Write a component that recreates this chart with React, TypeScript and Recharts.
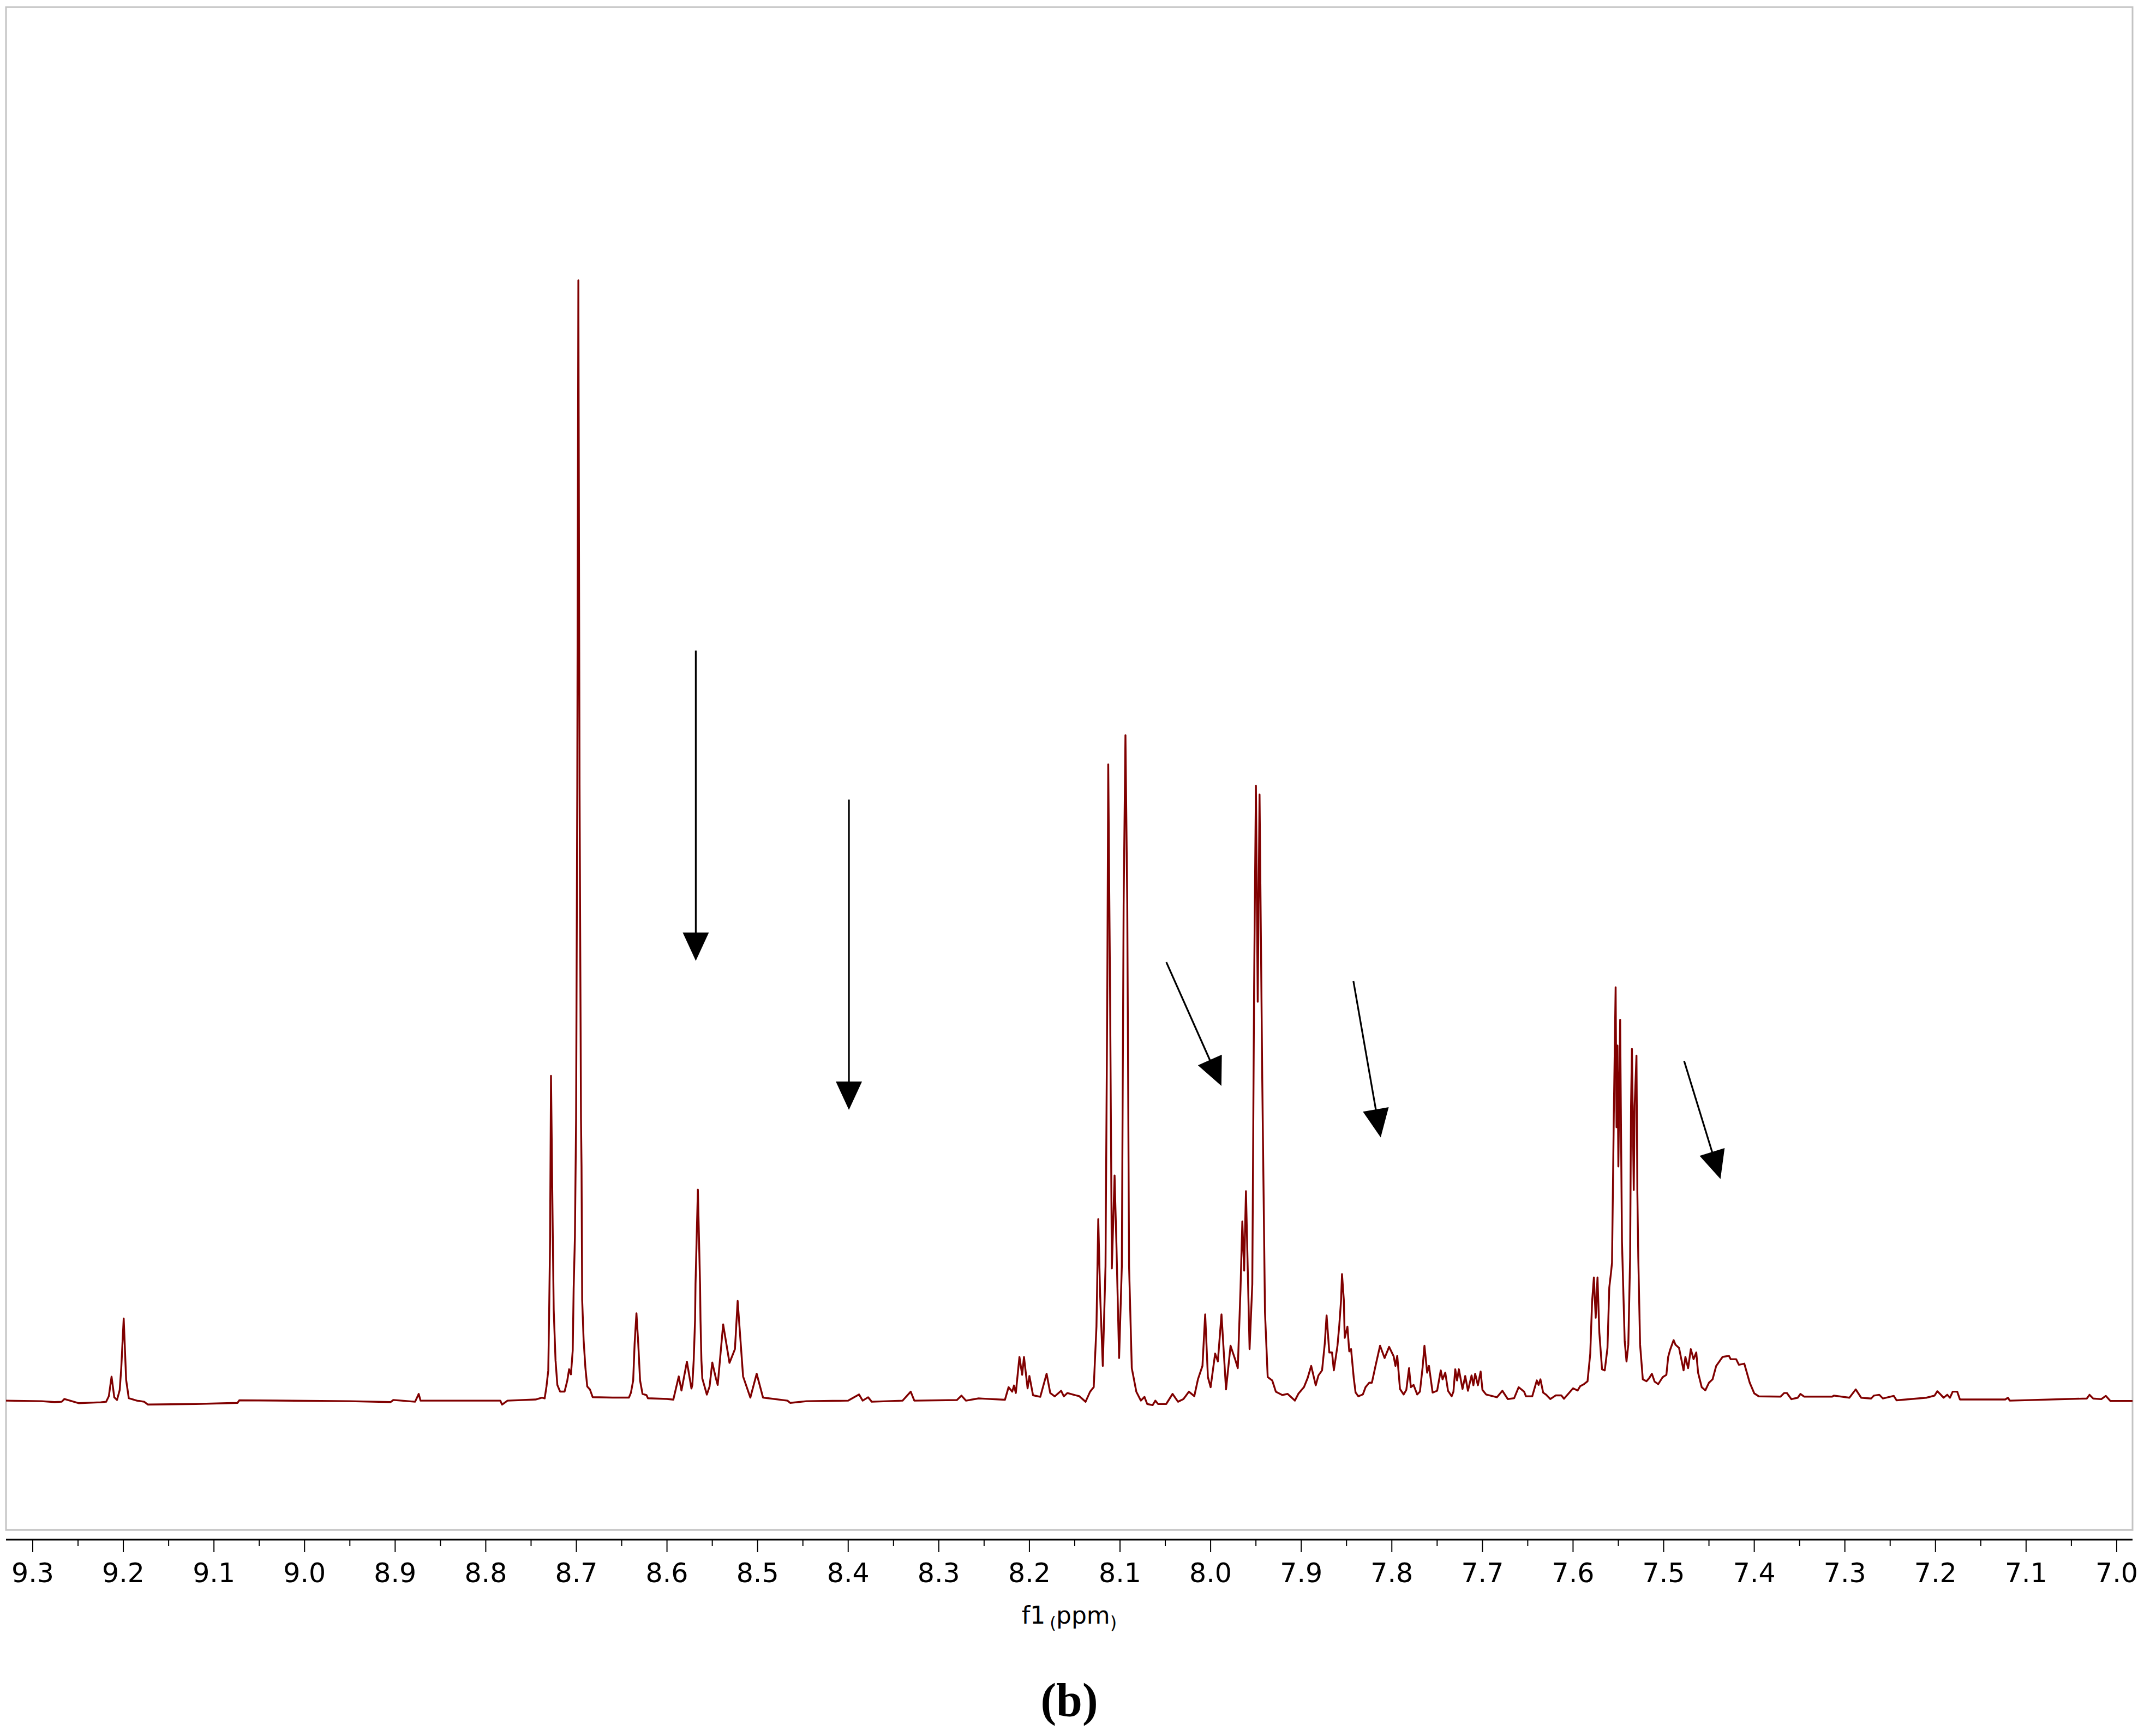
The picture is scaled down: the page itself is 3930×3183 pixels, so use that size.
import React from 'react';
import { LineChart, Line, XAxis, YAxis, ReferenceArea, ReferenceLine } from 'recharts';

// 1H NMR trace, [shift (ppm), relative intensity], left to right
const region93 = [
  [9.33, 0.0], [9.29, -0.05], [9.276, -0.13], [9.268, -0.1], [9.265, 0.15], [9.249, -0.23],
  [9.225, -0.15], [9.219, -0.1], [9.216, 0.4], [9.213, 2.14], [9.21, 0.3], [9.207, 0.06],
  [9.204, 0.95], [9.2023, 2.9], [9.1996, 7.33], [9.1969, 1.85], [9.194, 0.22], [9.185, 0.0],
  [9.177, -0.1], [9.173, -0.35], [9.12, -0.3], [9.074, -0.2], [9.072, 0.03], [8.95, -0.05],
  [8.905, -0.13], [8.902, 0.06], [8.878, -0.1], [8.874, 0.6], [8.872, 0.0], [8.784, 0.0],
  [8.782, -0.35], [8.776, 0.0], [8.745, 0.1],
];

const region87 = [
  [8.738, 0.27], [8.735, 0.2], [8.733, 1.26], [8.731, 2.7], [8.73, 8.1], [8.729, 14.5],
  [8.728, 29], [8.726, 14.5], [8.725, 8.1], [8.723, 3.6], [8.721, 1.4], [8.718, 0.81],
  [8.713, 0.81], [8.71, 1.8], [8.708, 2.8], [8.706, 2.35], [8.704, 4.5], [8.703, 10.0],
  [8.7016, 14.6], [8.7003, 25.2], [8.699, 55], [8.6978, 100], [8.6965, 55], [8.6949, 25.2],
  [8.6943, 20.9], [8.6936, 9.0], [8.692, 5.4], [8.69, 2.9], [8.688, 1.26], [8.685, 0.99],
  [8.682, 0.31],
];

const region86 = [
  [8.66, 0.27], [8.642, 0.27], [8.6398, 0.7], [8.6373, 1.8], [8.6357, 5.1], [8.6337, 7.8],
  [8.6317, 5.1], [8.6297, 1.8], [8.627, 0.6], [8.6227, 0.5], [8.621, 0.21], [8.6, 0.15],
  [8.593, 0.09], [8.587, 2.16], [8.584, 0.9], [8.578, 3.48], [8.573, 1.08], [8.572, 1.4],
  [8.5705, 3.6], [8.569, 7.2], [8.5685, 10.4], [8.5659, 18.83], [8.5635, 10.4], [8.563, 7.2],
  [8.562, 3.6], [8.561, 1.98], [8.556, 0.54], [8.553, 1.26], [8.55, 3.4], [8.546, 1.98],
  [8.544, 1.4], [8.538, 6.81], [8.531, 3.37], [8.525, 4.6], [8.522, 8.9], [8.516, 2.16],
  [8.508, 0.27], [8.501, 2.4], [8.494, 0.27], [8.467, 0.0], [8.464, -0.2],
];

const region84 = [
  [8.446, -0.05], [8.4, 0.0], [8.388, 0.55], [8.384, 0.0], [8.378, 0.3], [8.374, -0.1],
  [8.34, 0.0], [8.331, 0.8], [8.327, 0.0], [8.28, 0.05], [8.275, 0.45], [8.27, 0.0],
  [8.256, 0.2], [8.252, 0.18], [8.227, 0.08], [8.223, 1.2], [8.219, 0.8], [8.217, 1.35],
  [8.215, 0.68], [8.211, 3.9], [8.208, 2.3], [8.206, 3.9], [8.202, 1.1], [8.2, 2.2],
  [8.196, 0.48], [8.188, 0.34], [8.181, 2.4], [8.177, 0.68], [8.172, 0.38], [8.165, 0.88],
  [8.162, 0.38], [8.158, 0.68], [8.15, 0.5], [8.145, 0.4],
];

const region81 = [
  [8.138, -0.1], [8.133, 0.8], [8.129, 1.2], [8.126, 6.6], [8.124, 16.2], [8.122, 9.6],
  [8.119, 3.1], [8.116, 12.0], [8.114, 36.9], [8.113, 56.8], [8.111, 36.9], [8.109, 11.8],
  [8.106, 20.1], [8.104, 14.1], [8.101, 3.8], [8.098, 12.0], [8.096, 44.3], [8.094, 59.4],
  [8.092, 44.3], [8.09, 12.0], [8.087, 2.9], [8.082, 0.8], [8.077, 0], [8.073, 0.33],
  [8.07, -0.3], [8.064, -0.4], [8.061, 0], [8.058, -0.3], [8.049, -0.3], [8.042, 0.6],
  [8.036, -0.1], [8.03, 0.14], [8.024, 0.8], [8.018, 0.4], [8.014, 1.9], [8.009, 3.1],
  [8.006, 7.7], [8.003, 2.1], [8.0, 1.2], [7.995, 4.2], [7.992, 3.5], [7.988, 7.7],
  [7.983, 1.0], [7.978, 4.9], [7.973, 3.7], [7.97, 2.9], [7.967, 10.0], [7.965, 16.0],
  [7.963, 11.6], [7.961, 18.7], [7.957, 4.6], [7.954, 10.4], [7.952, 36.9], [7.95, 54.9],
  [7.948, 35.6], [7.946, 54.1], [7.943, 28.6], [7.94, 7.9], [7.937, 2.1], [7.932, 1.8],
];

const region79 = [
  [7.928, 0.8], [7.921, 0.5], [7.915, 0.6], [7.907, 0], [7.903, 0.63], [7.897, 1.2],
  [7.893, 2.0], [7.889, 3.1], [7.884, 1.37], [7.881, 2.25], [7.877, 2.7], [7.874, 5.1],
  [7.872, 7.6], [7.869, 4.3], [7.866, 4.3], [7.864, 2.7], [7.86, 4.9], [7.858, 6.7],
  [7.856, 9.0], [7.855, 11.3], [7.853, 9.0], [7.852, 5.6], [7.849, 6.6], [7.847, 4.4],
  [7.845, 4.6], [7.842, 2.0], [7.84, 0.72], [7.837, 0.39], [7.832, 0.55], [7.829, 1.2],
  [7.825, 1.6], [7.822, 1.6], [7.818, 3.1], [7.813, 4.9], [7.808, 3.8], [7.803, 4.8],
  [7.798, 3.96], [7.796, 3.1], [7.794, 4.0], [7.791, 1.04], [7.787, 0.55], [7.784, 0.96],
  [7.781, 2.9], [7.779, 1.2], [7.776, 1.4], [7.772, 0.55], [7.769, 0.8], [7.766, 3.0],
  [7.764, 4.9], [7.761, 2.5], [7.759, 3.1], [7.755, 0.72], [7.75, 0.88], [7.746, 2.7],
  [7.744, 1.9], [7.741, 2.5], [7.738, 0.88], [7.734, 0.39], [7.732, 0.8], [7.73, 2.8],
  [7.728, 1.8], [7.726, 2.8], [7.722, 1.04], [7.719, 2.2], [7.716, 0.88], [7.712, 2.25],
  [7.71, 1.37], [7.708, 2.4], [7.705, 1.37], [7.702, 2.6], [7.7, 0.96], [7.696, 0.55],
  [7.684, 0.3], [7.678, 0.88], [7.672, 0.14], [7.665, 0.22], [7.66, 1.2], [7.654, 0.8],
  [7.652, 0.39], [7.645, 0.39], [7.64, 1.8], [7.638, 1.4], [7.636, 1.9], [7.633, 0.72],
  [7.63, 0.55], [7.625, 0.14], [7.619, 0.47], [7.613, 0.47], [7.61, 0.17], [7.605, 0.63],
];

const region75 = [
  [7.6, 1.1], [7.595, 0.9], [7.592, 1.3], [7.588, 1.47], [7.584, 1.73], [7.581, 4.2],
  [7.579, 8.8], [7.577, 11.0], [7.575, 7.4], [7.573, 11.0], [7.571, 6.1], [7.568, 2.8],
  [7.565, 2.7], [7.562, 4.7], [7.56, 10.1], [7.558, 11.5], [7.557, 12.3], [7.555, 25.5],
  [7.553, 36.9], [7.552, 24.4], [7.551, 31.7], [7.55, 20.9], [7.548, 34.0], [7.547, 23.6],
  [7.546, 14.2], [7.543, 5.3], [7.541, 3.5], [7.539, 5.0], [7.537, 12.8], [7.536, 26.3],
  [7.535, 31.4], [7.533, 18.8], [7.532, 26.3], [7.53, 30.8], [7.529, 18.5], [7.528, 12.8],
  [7.526, 5.0], [7.523, 1.9], [7.519, 1.73], [7.516, 2.0], [7.513, 2.4], [7.51, 1.7],
  [7.506, 1.47], [7.501, 2.1], [7.497, 2.3], [7.495, 3.9], [7.493, 4.5], [7.489, 5.4],
  [7.487, 5.0], [7.483, 4.7], [7.481, 3.9], [7.478, 2.7], [7.476, 3.9], [7.473, 2.9],
  [7.47, 4.6], [7.467, 3.7], [7.464, 4.3], [7.462, 2.5], [7.458, 1.2], [7.454, 0.92],
  [7.45, 1.6], [7.446, 1.9], [7.442, 3.1], [7.435, 3.9], [7.428, 4.0], [7.426, 3.7],
  [7.42, 3.7], [7.417, 3.2], [7.411, 3.3], [7.405, 1.6], [7.4, 0.65], [7.395, 0.38],
];

const region73 = [
  [7.371, 0.36], [7.367, 0.68], [7.364, 0.68], [7.359, 0.13], [7.352, 0.26], [7.349, 0.6],
  [7.345, 0.36], [7.314, 0.36], [7.312, 0.45], [7.295, 0.26], [7.288, 1.0], [7.282, 0.26],
  [7.271, 0.19], [7.268, 0.45], [7.262, 0.52], [7.258, 0.19], [7.246, 0.42], [7.243, 0.03],
  [7.21, 0.26], [7.201, 0.45], [7.198, 0.84], [7.195, 0.6], [7.191, 0.26], [7.187, 0.52],
  [7.184, 0.26], [7.181, 0.8], [7.176, 0.8], [7.173, 0.1], [7.123, 0.1], [7.12, 0.26],
  [7.118, 0.0], [7.033, 0.19], [7.03, 0.52], [7.026, 0.19], [7.017, 0.13], [7.012, 0.42],
  [7.007, -0.03], [6.9825, -0.03],
];

const majorTicks = [9.3, 9.2, 9.1, 9.0, 8.9, 8.8, 8.7, 8.6, 8.5, 8.4, 8.3, 8.2, 8.1, 8.0, 7.9, 7.8, 7.7, 7.6, 7.5, 7.4, 7.3, 7.2, 7.1, 7.0];
const tickLabels = ['9.3', '9.2', '9.1', '9.0', '8.9', '8.8', '8.7', '8.6', '8.5', '8.4', '8.3', '8.2', '8.1', '8.0', '7.9', '7.8', '7.7', '7.6', '7.5', '7.4', '7.3', '7.2', '7.1', '7.0'];
const minorTicks = [9.25, 9.15, 9.05, 8.95, 8.85, 8.75, 8.65, 8.55, 8.45, 8.35, 8.25, 8.15, 8.05, 7.95, 7.85, 7.75, 7.65, 7.55, 7.45, 7.35, 7.25, 7.15, 7.05];

// annotation arrows: [fromShift, fromIntensity, toShift, toIntensity]
const arrows = [
  [8.5682, 66.95, 8.5682, 39.26],
  [8.3992, 53.65, 8.3992, 25.95],
  [8.0489, 39.14, 7.9881, 28.09],
  [7.8424, 37.44, 7.8123, 23.5],
  [7.4774, 30.32, 7.4373, 19.78],
];

const X_DOMAIN: [number, number] = [6.9825, 9.3295];
const Y_DOMAIN: [number, number] = [-12.41, 124.39];
const FRAME_BOTTOM = -11.54;

const spectrum = [...region93, ...region87, ...region86, ...region84, ...region81, ...region79, ...region75, ...region73]
  .map(([ppm, intensity]) => ({ ppm, intensity }));

const allTicks = [...majorTicks, ...minorTicks].sort((a, b) => b - a);

const renderTick = (props: any) => {
  const { x, y, payload } = props;
  const idx = majorTicks.findIndex(v => Math.abs(v - payload.value) < 1e-6);
  const major = idx >= 0;
  return (
    <g>
      <line x1={x} y1={y} x2={x} y2={y + (major ? 23 : 12)} stroke="#000" strokeWidth={2} />
      {major && (
        <text x={x} y={y + 78} textAnchor="middle" fontFamily="'DejaVu Sans', sans-serif" fontSize={49} fill="#000">
          {tickLabels[idx]}
        </text>
      )}
    </g>
  );
};

const renderCaption = (props: any) => {
  const vb = props.viewBox ?? { x: 11, y: 2823, width: 3898, height: 360 };
  const cx = vb.x + vb.width / 2;
  return (
    <g>
      <text x={cx} y={vb.y + 154} textAnchor="middle" fontFamily="'DejaVu Sans', sans-serif" fontSize={44} fill="#000">
        f1
        <tspan fontSize={30} dx={8} dy={9}>(</tspan>
        <tspan fontSize={44} dy={-9}>ppm</tspan>
        <tspan fontSize={32} dy={9}>)</tspan>
      </text>
      <text x={cx} y={vb.y + 323} textAnchor="middle" fontFamily="'Liberation Serif', 'Times New Roman', serif" fontSize={86} fontWeight="bold" fill="#000">
        (b)
      </text>
    </g>
  );
};

const ArrowShape = (props: any) => {
  const { x1, y1, x2, y2 } = props;
  const dx = x2 - x1;
  const dy = y2 - y1;
  const len = Math.hypot(dx, dy) || 1;
  const ux = dx / len;
  const uy = dy / len;
  const headLen = 52;
  const half = 24;
  const bx = x2 - ux * headLen;
  const by = y2 - uy * headLen;
  return (
    <g>
      <line x1={x1} y1={y1} x2={bx + ux * 4} y2={by + uy * 4} stroke="#000" strokeWidth={3.2} />
      <polygon
        points={`${x2},${y2} ${bx - uy * half},${by + ux * half} ${bx + uy * half},${by - ux * half}`}
        fill="#000"
      />
    </g>
  );
};

export default function App() {
  return (
    <div style={{ position: 'absolute', left: 0, top: 0, width: 3930, height: 3183, background: '#fff' }}>
      <LineChart
        width={3930}
        height={3183}
        data={spectrum}
        margin={{ top: 13, right: 21, left: 11, bottom: 0 }}
        style={{ overflow: 'visible' }}
      >
        <XAxis
          dataKey="ppm"
          type="number"
          domain={X_DOMAIN}
          allowDataOverflow
          reversed
          ticks={allTicks}
          interval={0}
          tick={renderTick}
          tickLine={false}
          tickSize={0}
          tickMargin={0}
          axisLine={{ stroke: '#000', strokeWidth: 3 }}
          height={360}
          label={renderCaption}
        />
        <YAxis type="number" domain={Y_DOMAIN} allowDataOverflow hide />
        <ReferenceArea
          x1={X_DOMAIN[1]}
          x2={X_DOMAIN[0]}
          y1={FRAME_BOTTOM}
          y2={Y_DOMAIN[1]}
          fill="none"
          fillOpacity={0}
          stroke="#c3c3c3"
          strokeWidth={3}
          ifOverflow="visible"
        />
        <Line
          type="linear"
          dataKey="intensity"
          stroke="#800000"
          strokeWidth={3.4}
          strokeLinejoin="round"
          dot={false}
          activeDot={false}
          isAnimationActive={false}
        />
        {arrows.map((a, i) => (
          <ReferenceLine
            key={`arrow-${i}`}
            segment={[{ x: a[0], y: a[1] }, { x: a[2], y: a[3] }]}
            ifOverflow="visible"
            shape={ArrowShape}
          />
        ))}
      </LineChart>
    </div>
  );
}
